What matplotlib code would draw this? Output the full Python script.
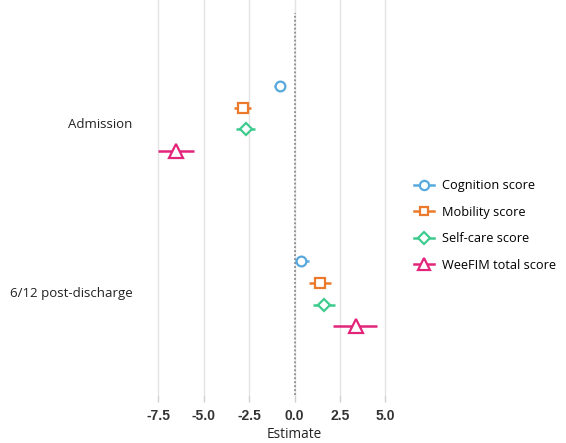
import matplotlib
matplotlib.use("Agg")
import matplotlib.pyplot as plt
import numpy as np
from matplotlib.lines import Line2D

# Model estimates with confidence intervals, by outcome and time point
timepoints = ["Admission", "6/12 post-discharge"]
outcomes = ["Cognition score", "Mobility score", "Self-care score", "WeeFIM total score"]

cognition_est = [-0.8, 0.35]
cognition_lo = [-1.15, 0.0]
cognition_hi = [-0.5, 0.8]

mobility_est = [-2.85, 1.4]
mobility_lo = [-3.35, 0.8]
mobility_hi = [-2.4, 2.0]

selfcare_est = [-2.7, 1.6]
selfcare_lo = [-3.2, 1.0]
selfcare_hi = [-2.2, 2.2]

weefim_est = [-6.5, 3.4]
weefim_lo = [-7.5, 2.1]
weefim_hi = [-5.55, 4.55]

x_ticks = [-7.5, -5.0, -2.5, 0.0, 2.5, 5.0]

series = [
    (cognition_est, cognition_lo, cognition_hi, "#58A9DE", "o", 7),
    (mobility_est, mobility_lo, mobility_hi, "#EC7A2C", "s", 6.5),
    (selfcare_est, selfcare_lo, selfcare_hi, "#3FCB8E", "D", 6.5),
    (weefim_est, weefim_lo, weefim_hi, "#E2257A", "^", 9.5),
]

XMIN, XMAX = -8.3, 6.0

fig = plt.figure(figsize=(5.66, 4.43), dpi=100)
ax = fig.add_axes([0.254, 0.108, 0.459, 0.892])

# dodge the four outcomes within each time point
offsets = np.array([-1.5, -0.5, 0.5, 1.5]) * 0.124
base = np.arange(len(timepoints))
label_pos = base + np.array([0.024, -0.011])

ax.axvline(0, color="#8C8C8C", linestyle=(0, (1, 1.2)), linewidth=1.3, zorder=2, ymin=-0.01, ymax=0.967)

handles = []
for (est, lo, hi, color, marker, ms), off, label in zip(series, offsets, outcomes):
    y = base + off
    est = np.array(est)
    for yi, l, h in zip(y, lo, hi):
        ax.plot([l, h], [yi, yi], color=color, linewidth=1.8, solid_capstyle="butt", zorder=3)
    ax.plot(est, y, linestyle="none", marker=marker, markersize=ms,
            markerfacecolor="white", markeredgecolor=color, markeredgewidth=1.6, zorder=4)
    handles.append(Line2D([0], [0], color=color, linewidth=1.8, marker=marker,
                          markersize=ms * 0.95, markerfacecolor="white",
                          markeredgecolor=color, markeredgewidth=1.6, label=label))

ax.set_xlim(XMIN, XMAX)
ax.set_ylim(1.578, -0.676)
ax.set_xticks(x_ticks)
ax.set_xticklabels([f"{t:.1f}" for t in x_ticks], fontfamily="Liberation Sans",
                   fontweight="bold", fontsize=10, color="#333333")
ax.set_yticks(label_pos)
ax.set_yticklabels(timepoints, fontfamily="Open Sans", fontsize=9.5, color="#222222")
ax.tick_params(axis="y", length=0, pad=8)
ax.tick_params(axis="x", length=5, color="#D0D0D0", width=1, pad=5)
ax.grid(axis="x", color="#E3E3E3", linewidth=1)
ax.set_axisbelow(True)
for s in ax.spines.values():
    s.set_visible(False)

ax.set_xlabel("Estimate", fontfamily="Open Sans", fontsize=9.8, color="#222222")
ax.xaxis.set_label_coords((0 - XMIN) / (XMAX - XMIN), -0.081)

fig.legend(handles=handles, loc="center left", bbox_to_anchor=(0.731, 0.491),
           frameon=False, prop={"family": "Open Sans", "size": 9.2},
           handlelength=1.6, handletextpad=0.6, labelspacing=1.05,
           borderaxespad=0, borderpad=0)

fig.savefig("out.png", dpi=100)
